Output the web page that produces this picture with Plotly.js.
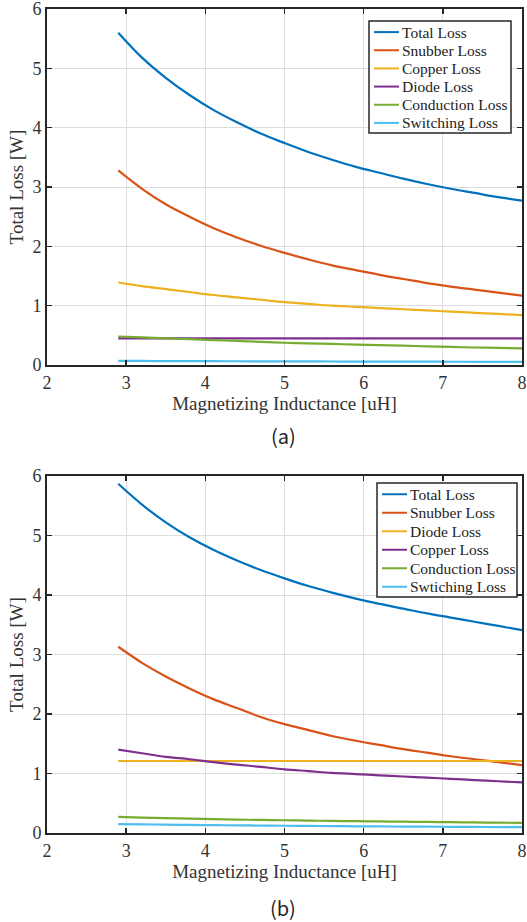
<!DOCTYPE html>
<html>
<head>
<meta charset="utf-8">
<script src="https://cdn.plot.ly/plotly-3.0.1.min.js"></script>
<style>html,body{margin:0;padding:0;background:#fff;}#chart{width:527px;height:922px;}</style>
</head>
<body>
<div id="chart"></div>
<script>
// Magnetizing inductance [uH]
const inductance = [2.9, 3.2, 3.5, 3.8, 4.1, 4.4, 4.7, 5.0, 5.3, 5.6, 5.9, 6.2, 6.5, 6.8, 7.1, 7.4, 7.7, 8.0];

// (a)
const totalA      = [5.60, 5.18, 4.84, 4.55, 4.30, 4.09, 3.90, 3.74, 3.59, 3.46, 3.34, 3.24, 3.14, 3.05, 2.97, 2.90, 2.83, 2.77];
const snubberA    = [3.28, 2.97, 2.71, 2.50, 2.31, 2.15, 2.01, 1.89, 1.78, 1.68, 1.60, 1.52, 1.45, 1.38, 1.32, 1.27, 1.22, 1.17];
const copperA     = [1.39, 1.33, 1.28, 1.23, 1.18, 1.14, 1.10, 1.06, 1.03, 1.00, 0.98, 0.96, 0.94, 0.92, 0.90, 0.88, 0.86, 0.84];
const diodeA      = [0.45, 0.45, 0.45, 0.45, 0.45, 0.45, 0.45, 0.45, 0.45, 0.45, 0.45, 0.45, 0.45, 0.45, 0.45, 0.45, 0.45, 0.45];
const conductionA = [0.48, 0.465, 0.45, 0.435, 0.42, 0.405, 0.39, 0.375, 0.365, 0.355, 0.345, 0.335, 0.325, 0.315, 0.305, 0.295, 0.288, 0.28];
const switchingA  = [0.070, 0.068, 0.066, 0.065, 0.064, 0.063, 0.062, 0.061, 0.060, 0.059, 0.058, 0.057, 0.056, 0.056, 0.055, 0.054, 0.054, 0.053];

// (b)
const totalB      = [5.87, 5.52, 5.22, 4.97, 4.76, 4.58, 4.42, 4.28, 4.15, 4.04, 3.94, 3.85, 3.77, 3.69, 3.62, 3.55, 3.48, 3.41];
const snubberB    = [3.13, 2.86, 2.63, 2.43, 2.25, 2.10, 1.95, 1.83, 1.73, 1.63, 1.55, 1.48, 1.41, 1.35, 1.29, 1.24, 1.19, 1.14];
const diodeB      = [1.21, 1.21, 1.21, 1.21, 1.21, 1.21, 1.21, 1.21, 1.21, 1.21, 1.21, 1.21, 1.21, 1.21, 1.21, 1.21, 1.21, 1.21];
const copperB     = [1.40, 1.34, 1.28, 1.24, 1.19, 1.15, 1.11, 1.07, 1.04, 1.01, 0.99, 0.97, 0.95, 0.93, 0.91, 0.89, 0.87, 0.85];
const conductionB = [0.27, 0.26, 0.25, 0.24, 0.233, 0.226, 0.22, 0.214, 0.208, 0.203, 0.198, 0.194, 0.19, 0.186, 0.182, 0.178, 0.174, 0.17];
const switchingB  = [0.150, 0.145, 0.140, 0.136, 0.132, 0.128, 0.125, 0.122, 0.119, 0.116, 0.113, 0.110, 0.108, 0.106, 0.104, 0.102, 0.100, 0.098];

const namesA = ['Total Loss', 'Snubber Loss', 'Copper Loss', 'Diode Loss', 'Conduction Loss', 'Switching Loss'];
const namesB = ['Total Loss', 'Snubber Loss', 'Diode Loss', 'Copper Loss', 'Conduction Loss', 'Swtiching Loss'];
const xTicks = [2, 3, 4, 5, 6, 7, 8];
const yTicks = [0, 1, 2, 3, 4, 5, 6];
const captions = ['(a)', '(b)'];

const colors = ['#0072BD', '#D95319', '#EDB120', '#7E2F8E', '#77AC30', '#4DBEEE'];

const seriesA = [totalA, snubberA, copperA, diodeA, conductionA, switchingA];
const seriesB = [totalB, snubberB, diodeB, copperB, conductionB, switchingB];

const traces = [];
seriesA.forEach((ys, i) => traces.push({
  x: inductance, y: ys, name: namesA[i], type: 'scatter', mode: 'lines',
  line: {color: colors[i], width: 2.2, shape: 'spline', smoothing: 1},
  xaxis: 'x', yaxis: 'y', showlegend: false
}));
seriesB.forEach((ys, i) => traces.push({
  x: inductance, y: ys, name: namesB[i], type: 'scatter', mode: 'lines',
  line: {color: colors[i], width: 2.2, shape: 'spline', smoothing: 1},
  xaxis: 'x2', yaxis: 'y2', showlegend: false
}));

const serif = '"Liberation Serif", "Times New Roman", serif';
const sans = '"Noto Sans CJK KR", "Noto Sans", sans-serif';

// page geometry (px)
const W = 527, H = 922;
const M = {l: 47, r: 5, t: 9, b: 89};
const plotW = W - M.l - M.r, plotH = H - M.t - M.b;
const px2x = px => (px - M.l) / plotW;
const py2y = py => (H - M.b - py) / plotH;

const axisCommon = {
  showline: true, linecolor: '#262626', linewidth: 2, mirror: 'ticks',
  ticks: 'inside', ticklen: 5, tickwidth: 1.5, tickcolor: '#262626',
  showgrid: true, gridcolor: '#dedede', gridwidth: 1, zeroline: false,
  ticklabeloverflow: 'allow',
  tickfont: {family: serif, size: 18, color: '#333'}
};
const xCommon = Object.assign({}, axisCommon, {
  range: [2, 8], tickmode: 'array', tickvals: xTicks, ticktext: xTicks.map(String),
  title: {text: 'Magnetizing Inductance [uH]', font: {family: serif, size: 19, color: '#333'}, standoff: 2}
});
const yCommon = Object.assign({}, axisCommon, {
  range: [0, 6], tickmode: 'array', tickvals: yTicks, ticktext: yTicks.map(String),
  title: {text: 'Total Loss [W]', font: {family: serif, size: 19, color: '#333'}, standoff: 4}
});

// legend boxes drawn as shapes + annotations (box px: left, top, right, bottom)
const legendBoxes = [
  {names: namesA, left: 369, top: 21, right: 511, bottom: 133},
  {names: namesB, left: 377, top: 483, right: 517, bottom: 597}
];
const shapes = [];
const annotations = [];
legendBoxes.forEach(lb => {
  shapes.push({type: 'rect', xref: 'paper', yref: 'paper', layer: 'above',
    x0: px2x(lb.left), x1: px2x(lb.right), y0: py2y(lb.bottom), y1: py2y(lb.top),
    line: {color: '#262626', width: 1.5}, fillcolor: '#ffffff'});
  const step = (lb.bottom - lb.top - 3) / lb.names.length;
  lb.names.forEach((nm, i) => {
    const cy = lb.top + 2 + step * (i + 0.5);
    shapes.push({type: 'line', xref: 'paper', yref: 'paper', layer: 'above',
      x0: px2x(lb.left + 5), x1: px2x(lb.left + 30), y0: py2y(cy), y1: py2y(cy),
      line: {color: colors[i], width: 2}});
    annotations.push({text: nm, xref: 'paper', yref: 'paper', showarrow: false,
      x: px2x(lb.left + 31), y: py2y(cy), xanchor: 'left', yanchor: 'middle',
      font: {family: serif, size: 15.5, color: '#222'}});
  });
});
[435, 907].forEach((py, i) => annotations.push({
  text: captions[i], xref: 'paper', yref: 'paper', x: px2x(283), y: py2y(py),
  xanchor: 'center', yanchor: 'middle', showarrow: false,
  font: {family: sans, size: 20, color: '#222'}
}));

const layout = {
  width: W, height: H,
  margin: M,
  font: {family: serif, color: '#333'},
  paper_bgcolor: '#fff', plot_bgcolor: '#fff',
  showlegend: false,
  xaxis: Object.assign({}, xCommon, {domain: [0, 1], anchor: 'y'}),
  yaxis: Object.assign({}, yCommon, {domain: [py2y(365), 1], anchor: 'x'}),
  xaxis2: Object.assign({}, xCommon, {domain: [0, 1], anchor: 'y2'}),
  yaxis2: Object.assign({}, yCommon, {domain: [0, py2y(476)], anchor: 'x2'}),
  shapes: shapes,
  annotations: annotations
};

Plotly.newPlot('chart', traces, layout, {displayModeBar: false, staticPlot: true});
</script>
</body>
</html>
